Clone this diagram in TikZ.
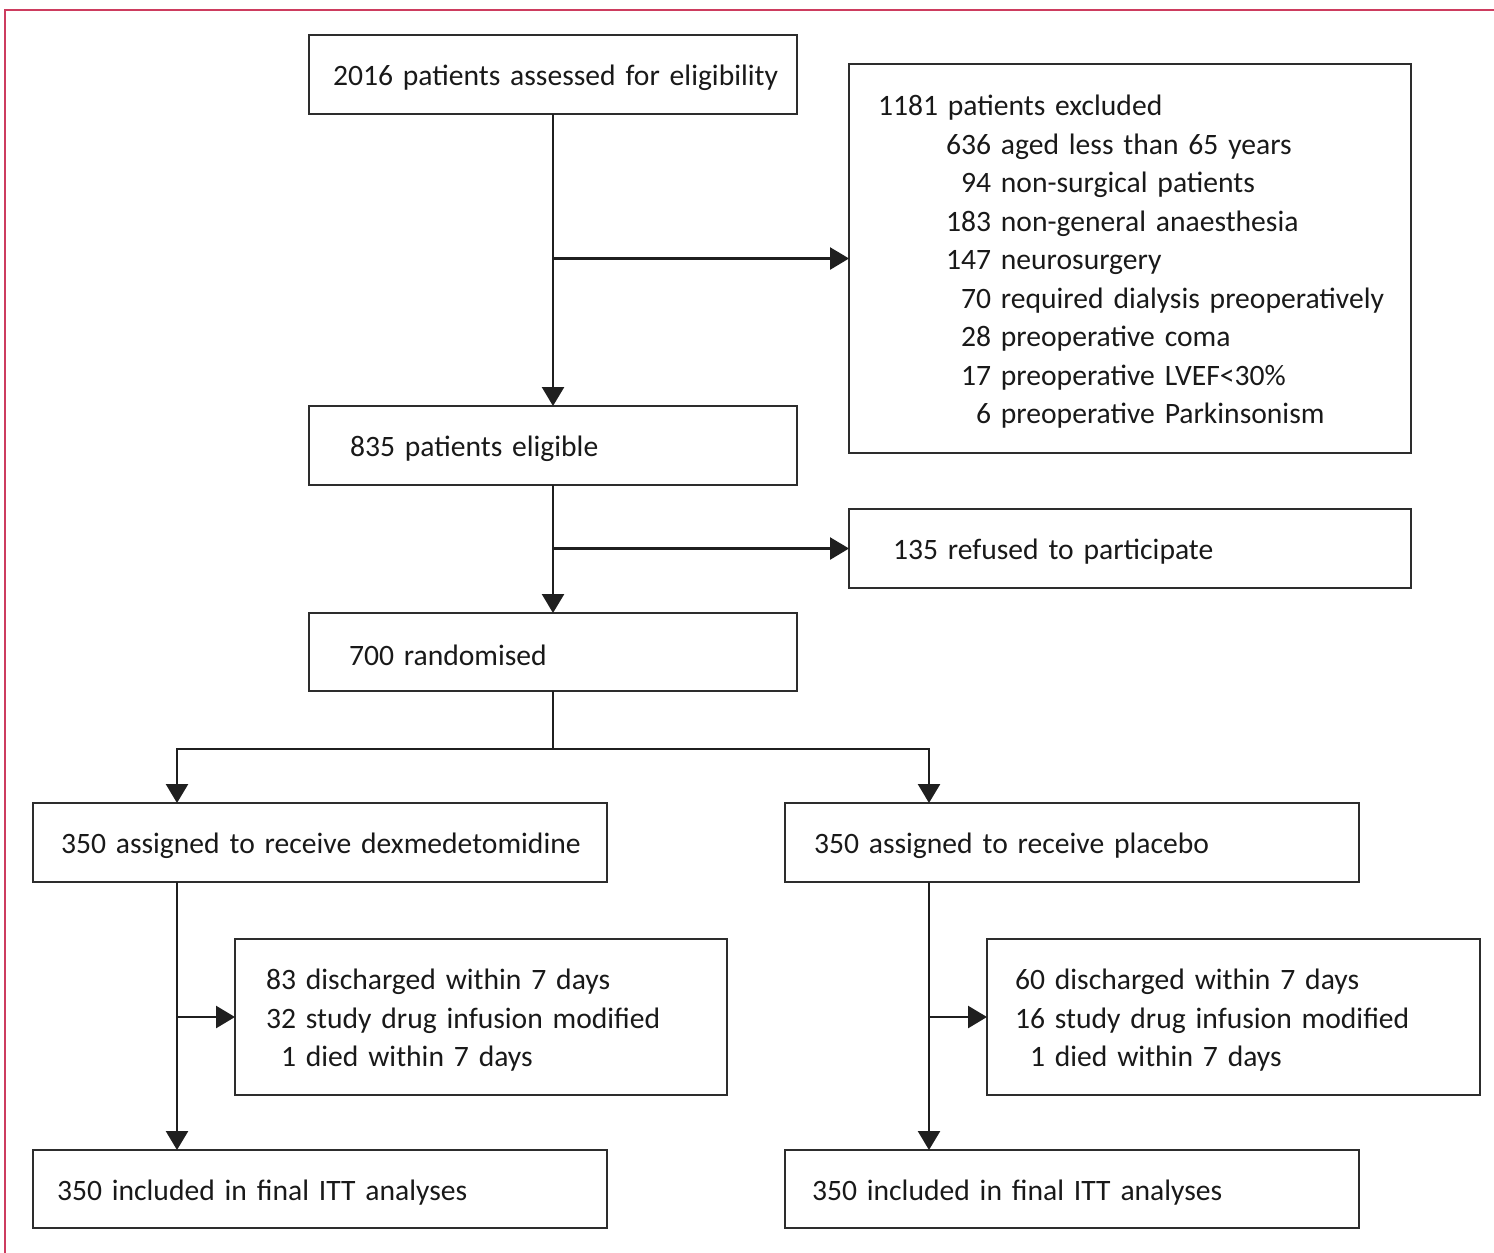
\documentclass[tikz,border=0pt]{standalone}
\usepackage{fontspec}
\setmainfont{Carlito}[WordSpace = 0.62]
\usepackage{tikz}
\usetikzlibrary{arrows.meta}

\definecolor{framepink}{RGB}{205,60,95}
\definecolor{boxline}{RGB}{45,45,45}

% keep the text on one line, a little below the box centre
\newcommand{\boxtext}[1]{\raisebox{-3.5pt}[\height][\depth]{#1}}

\tikzset{
	flowbox/.style = {draw = boxline, line width = 2.8pt, outer sep = 0pt, inner ysep = 0pt,
		anchor = north west, align = left, text = black!90},
	flowline/.style = {draw = black!88, line width = 2.6pt},
	flowarrow/.style = {flowline, -{Triangle[length = 19pt, width = 22pt]}}
}

\begin{document}
\begin{tikzpicture}[x = 1pt, y = -1pt, font = \fontsize{29.6}{38.5}\selectfont]
		\def\spineshift{144pt}
		%--------------------
		\useasboundingbox (0,0) rectangle (1494,1253);
		\draw[framepink, line width = 2pt] (1494,9.5) -- (5,9.5) -- (5,1253);

		%--------------------
		\node[flowbox, minimum width = 488pt, minimum height = 79pt, inner xsep = 24pt, text width = 440pt]
			(assess) at (309,35) {\boxtext{2016 patients assessed for eligibility}};

		\node[flowbox, minimum width = 562pt, minimum height = 389pt, inner xsep = 29pt, text width = 504pt]
			(excl) at (849,64) {\boxtext{\begin{tabular}{@{}@{\hspace{68pt}}r@{\ }l@{}}
				\multicolumn{2}{@{}l@{}}{1181 patients excluded}\\
				636 & aged less than 65 years\\
				94 & non-surgical patients\\
				183 & non-general anaesthesia\\
				147 & neurosurgery\\
				70 & required dialysis preoperatively\\
				28 & preoperative coma\\
				17 & preoperative LVEF<30\%\\
				6 & preoperative Parkinsonism
			\end{tabular}}};

		\node[flowbox, minimum width = 488pt, minimum height = 79pt, inner xsep = 41pt, text width = 406pt]
			(elig) at (309,406) {\boxtext{835 patients eligible}};

		\node[flowbox, minimum width = 562pt, minimum height = 79pt, inner xsep = 44pt, text width = 474pt]
			(refused) at (849,509) {\boxtext{135 refused to participate}};

		\node[flowbox, minimum width = 488pt, minimum height = 78pt, inner xsep = 40pt, text width = 408pt]
			(rand) at (309,613) {\boxtext{700 randomised}};

		%--------------------
		\node[flowbox, minimum width = 574pt, minimum height = 79pt, inner xsep = 28pt, text width = 518pt]
			(dex) at (33,803) {\boxtext{350 assigned to receive dexmedetomidine}};

		\node[flowbox, minimum width = 574pt, minimum height = 79pt, inner xsep = 29pt, text width = 516pt]
			(plac) at (785,803) {\boxtext{350 assigned to receive placebo}};

		\node[flowbox, minimum width = 492pt, minimum height = 156pt, inner xsep = 31pt, text width = 430pt]
			(dexlost) at (235,939) {\boxtext{\begin{tabular}{@{}r@{\ }l@{}}
				83 & discharged within 7 days\\
				32 & study drug infusion modified\\
				1 & died within 7 days
			\end{tabular}}};

		\node[flowbox, minimum width = 493pt, minimum height = 156pt, inner xsep = 28pt, text width = 437pt]
			(placlost) at (987,939) {\boxtext{\begin{tabular}{@{}r@{\ }l@{}}
				60 & discharged within 7 days\\
				16 & study drug infusion modified\\
				1 & died within 7 days
			\end{tabular}}};

		\node[flowbox, minimum width = 574pt, minimum height = 78pt, inner xsep = 24pt, text width = 526pt]
			(dexitt) at (33,1150) {\boxtext{350 included in final ITT analyses}};

		\node[flowbox, minimum width = 574pt, minimum height = 78pt, inner xsep = 27pt, text width = 520pt]
			(placitt) at (785,1150) {\boxtext{350 included in final ITT analyses}};

		%--------------------
		\draw[flowarrow] (assess.south) -- (elig.north);
		\draw[flowarrow] (assess.south |- excl.west) -- (excl.west);

		\draw[flowarrow] (elig.south) -- (rand.north);
		\draw[flowarrow] (elig.south |- refused.west) -- (refused.west);

		\coordinate (split) at (553,749);
		\draw[flowline] (rand.south) -- (split);
		\draw[flowarrow] (split) -| ([xshift = \spineshift]dex.north west);
		\draw[flowarrow] (split) -| ([xshift = \spineshift]plac.north west);

		%--------------------
		\draw[flowarrow] ([xshift = \spineshift]dex.south west) -- ([xshift = \spineshift]dexitt.north west);
		\draw[flowarrow] ([xshift = \spineshift]dex.south west |- dexlost.west) -- (dexlost.west);

		\draw[flowarrow] ([xshift = \spineshift]plac.south west) -- ([xshift = \spineshift]placitt.north west);
		\draw[flowarrow] ([xshift = \spineshift]plac.south west |- placlost.west) -- (placlost.west);
    \end{tikzpicture}
\end{document}
